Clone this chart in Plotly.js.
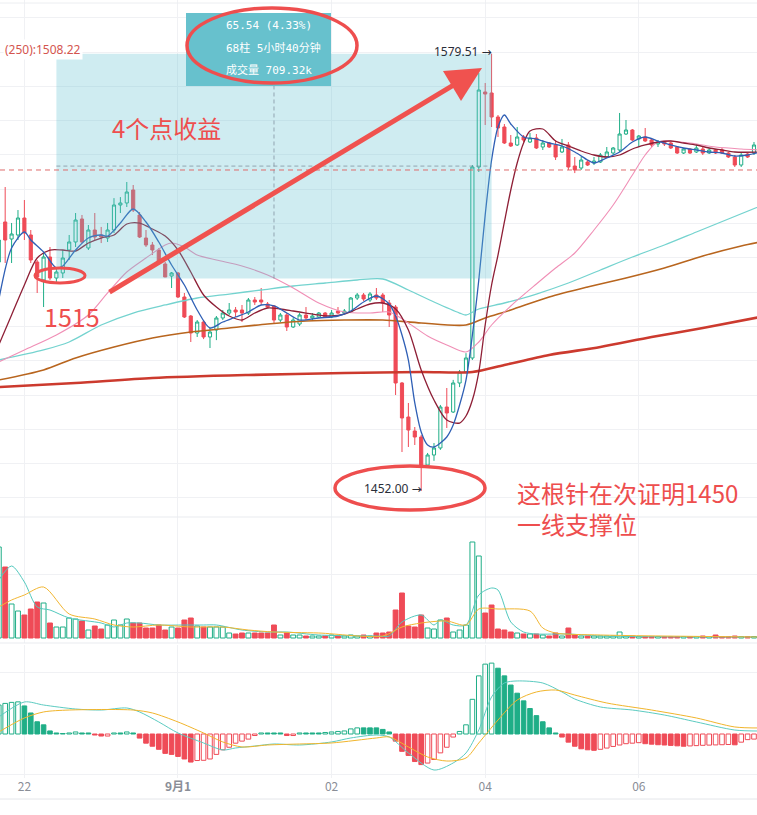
<!DOCTYPE html>
<html><head><meta charset="utf-8">
<script src="https://cdn.plot.ly/plotly-3.0.1.min.js"></script>
<style>html,body{margin:0;padding:0;background:#fff;overflow:hidden}</style>
</head><body><div id="chart" style="width:757px;height:815px"></div>
<script>
// ---------- data (5-minute bars, bar index 0 = 22:00, 24 = 9月1 00:00) ----------
const firstBar = -4;
const openP = [1518.77,1530.44,1525.48,1526.65,1531.60,1526.65,1518.77,1513.53,1520.23,1514.11,
1515.57,1522.27,1524.61,1531.31,1522.86,1528.10,1526.65,1525.77,1528.10,1535.39,
1535.98,1539.77,1532.48,1525.77,1523.73,1522.27,1518.19,1514.69,1515.57,1508.57,
1503.03,1498.07,1501.28,1496.91,1498.95,1502.45,1503.90,1504.78,1504.78,1503.90,
1507.70,1507.70,1506.53,1505.95,1501.86,1503.32,1499.82,1500.70,1503.32,1502.45,
1502.74,1503.90,1502.74,1504.49,1503.90,1504.20,1508.28,1509.15,1507.70,1509.15,
1509.15,1506.82,1505.65,1483.50,1473.58,1469.50,1467.75,1459.59,1462.51,1464.55,
1476.50,1475.04,1483.50,1486.70,1490.79,1546.47,1568.34,1568.05,1561.05,1558.13,
1553.47,1552.89,1555.22,1553.76,1554.93,1552.30,1553.47,1552.89,1550.85,1552.89,
1546.76,1546.18,1547.93,1547.64,1547.93,1549.39,1550.55,1551.43,1556.09,1557.26,
1554.64,1555.22,1554.34,1553.18,1553.76,1553.47,1552.30,1550.55,1551.72,1550.85,
1551.72,1550.55,1551.43,1551.43,1550.55,1549.39,1547.05,1550.26,1550.55];
const highP = [1528.10,1540.64,1530.15,1533.93,1536.85,1528.10,1519.36,1521.69,1523.15,1517.03,
1522.27,1526.65,1533.06,1532.48,1529.56,1533.06,1529.00,1530.15,1537.40,1537.70,
1542.10,1541.22,1533.35,1528.10,1524.61,1522.86,1518.77,1515.86,1515.86,1509.74,
1503.32,1501.86,1501.86,1499.82,1503.03,1504.78,1506.82,1505.65,1506.24,1508.28,
1508.57,1511.19,1507.11,1506.24,1503.90,1503.90,1502.45,1503.90,1505.65,1503.90,
1504.20,1504.20,1504.78,1505.65,1505.07,1508.57,1509.74,1509.74,1510.03,1511.19,
1509.74,1507.70,1506.24,1483.79,1477.67,1470.67,1468.34,1463.10,1466.00,1477.10,
1482.04,1484.40,1487.30,1492.20,1547.05,1573.88,1570.96,1579.51,1561.63,1559.00,
1555.80,1558.13,1555.80,1556.40,1556.09,1554.34,1553.76,1554.34,1554.64,1553.76,
1549.39,1549.39,1548.51,1549.39,1550.55,1552.30,1552.30,1562.22,1560.17,1557.55,
1555.80,1557.84,1554.64,1554.34,1554.05,1553.76,1552.59,1552.01,1552.01,1552.89,
1552.30,1552.01,1551.72,1552.01,1550.85,1549.97,1550.55,1550.55,1553.76];
const lowP = [1517.03,1518.48,1518.48,1525.19,1525.19,1518.48,1509.74,1505.65,1513.53,1512.65,
1514.11,1519.36,1523.15,1524.32,1522.27,1525.19,1524.30,1524.61,1527.23,1533.06,
1534.81,1533.35,1525.77,1523.15,1520.80,1517.90,1514.40,1511.19,1508.28,1502.45,
1495.45,1496.91,1496.30,1493.70,1496.00,1501.86,1503.32,1502.74,1501.28,1503.32,
1506.24,1506.24,1505.36,1501.00,1501.28,1498.66,1499.53,1500.12,1501.86,1501.86,
1502.45,1502.45,1502.45,1503.60,1503.60,1503.90,1507.70,1507.40,1507.11,1507.70,
1504.20,1499.82,1480.00,1463.38,1464.84,1465.42,1452.00,1459.01,1460.80,1464.00,
1470.37,1474.75,1482.30,1486.40,1490.20,1545.01,1558.72,1558.13,1555.22,1553.18,
1552.30,1552.59,1553.76,1553.47,1551.72,1551.43,1552.01,1548.51,1550.55,1545.60,
1544.70,1545.60,1546.76,1547.05,1547.64,1549.10,1549.97,1550.85,1555.80,1554.05,
1552.30,1553.76,1552.30,1552.30,1552.59,1551.72,1550.26,1550.26,1550.26,1550.55,
1549.97,1550.26,1550.26,1550.26,1549.10,1546.47,1546.47,1549.10,1549.97];
const closeP = [1525.19,1525.19,1526.94,1531.60,1527.23,1519.36,1514.40,1520.23,1514.11,1515.86,
1519.94,1524.61,1531.02,1524.61,1528.10,1526.06,1526.06,1528.10,1535.39,1535.98,
1539.18,1533.93,1526.06,1523.73,1522.27,1518.48,1514.40,1515.57,1508.57,1502.74,
1498.07,1501.28,1496.91,1498.37,1502.45,1503.90,1504.78,1504.20,1503.90,1507.70,
1507.11,1507.11,1505.65,1501.86,1503.32,1499.82,1501.86,1503.32,1502.45,1503.03,
1503.90,1502.74,1503.90,1503.90,1504.49,1508.28,1509.15,1507.99,1509.45,1508.28,
1506.82,1503.32,1483.50,1473.29,1469.79,1467.75,1459.01,1462.51,1464.55,1476.50,
1474.75,1483.50,1486.70,1490.79,1546.47,1568.92,1567.75,1561.05,1557.84,1553.47,
1552.59,1555.22,1554.34,1554.93,1552.01,1553.47,1552.30,1549.39,1552.30,1546.47,
1545.60,1548.51,1547.05,1548.22,1549.97,1550.85,1552.01,1556.09,1557.26,1554.34,
1555.51,1554.05,1552.89,1553.76,1553.18,1552.01,1550.55,1551.72,1550.55,1552.01,
1550.55,1551.43,1550.55,1550.55,1549.39,1547.05,1549.97,1549.39,1552.89];
const volume = [91,71,34,27,23,29,36,35,15,11,
11,20,19,17,8,12,9,13,18,13,
19,15,15,10,10,13,8,11,10,18,
20,12,11,11,11,11,5,4,5,5,
5,5,5,13,3,5,3,3,2,2,
2,2,3,2,2,3,2,3,2,5,
5,6,28,45,12,11,23,10,9,18,
20,6,8,13,96,82,25,33,9,8,
6,5,4,4,4,3,2,5,2,10,
3,2,2,2,2,2,2,6,2,2,
1.5,1.5,1.5,1.5,1.5,1.5,1.5,1.5,1.5,1.5,
2,1.5,3,1.5,1.5,2,1.5,1.5,1.5];
const macdHist = [2.84,3.0,3.1,3.15,2.75,2.06,1.2,0.9,0.3,0.1,
0.05,0.1,0.2,0.1,0.1,-0.1,-0.2,-0.2,0.1,0.1,
0.2,0.1,-0.4,-0.9,-1.2,-1.5,-1.9,-2.0,-2.2,-2.45,
-2.75,-2.6,-2.58,-2.45,-2.0,-1.55,-1.3,-0.9,-0.7,-0.5,
-0.15,0.1,0.1,0.1,0.1,-0.15,-0.15,0.1,0.1,0.1,
0.1,0.15,0.2,0.25,0.3,0.5,0.6,0.6,0.6,0.6,
0.45,0.2,-0.7,-1.7,-2.1,-2.7,-3.0,-2.85,-2.5,-1.85,
-1.3,-0.3,0.25,0.9,3.4,5.7,6.85,6.95,6.45,5.7,
4.8,4.0,3.25,2.5,1.8,1.2,0.6,0.1,-0.3,-0.8,
-1.2,-1.45,-1.55,-1.6,-1.5,-1.38,-1.22,-1.08,-0.95,-0.9,
-0.85,-0.95,-1.0,-1.05,-1.08,-1.12,-1.16,-1.2,-1.17,-1.14,
-1.11,-1.09,-1.07,-1.05,-1.03,-1.06,-0.8,-0.55,-0.5];

// moving averages at sample bars
const ma5X = [-4,-2,0,1,3,5,6,8,10,12,13,15,17,19,21,23,25,27,29,31,33,35,37,39,41,43,46,49,51,53,55,57,58,59,60,61,62,63,64,65,66,67,68,69,70,71,72,73,74,75,76,78,80,82,84,86,88,89,91,93,95,97,99,101,103,105,107,109,111,113,115];
const ma5Y = [1507.69,1522.86,1527.52,1525.19,1521.69,1517.02,1517.61,1522.27,1525.77,1526.65,1526.35,1530.14,1534.23,1530.44,1524.60,1517.90,1512.07,1504.78,1499.53,1501.28,1502.74,1504.20,1506.24,1505.95,1503.90,1501.86,1502.45,1503.03,1504.49,1507.11,1508.86,1506.53,1503.03,1497.49,1490.20,1477.67,1469.21,1465.42,1464.84,1466.00,1467.75,1471.25,1477.08,1484.37,1497.49,1513.53,1532.48,1548.51,1558.13,1561.63,1559.01,1555.22,1554.63,1553.47,1552.59,1550.84,1548.51,1547.64,1549.10,1550.84,1553.76,1555.22,1554.05,1552.89,1552.01,1551.43,1550.84,1550.55,1549.68,1549.97,1550.84];
const ma10X = [-4,-2,0,2,4,6,8,10,12,14,16,18,20,22,24,26,28,30,32,34,36,38,40,42,44,46,48,50,52,54,56,58,60,62,64,66,68,69,70,71,72,73,74,75,76,77,78,79,81,83,85,87,89,91,93,95,97,99,101,103,105,107,109,111,115];
const ma10Y = [1494.58,1503.32,1512.07,1519.94,1522.27,1522.27,1521.98,1524.31,1525.77,1526.65,1529.85,1530.14,1528.40,1526.35,1522.27,1515.86,1509.15,1505.65,1503.03,1501.86,1503.90,1505.36,1505.07,1504.49,1503.90,1503.32,1503.03,1503.61,1505.07,1506.53,1506.82,1505.07,1498.95,1487.29,1478.54,1472.71,1471.83,1473.88,1478.54,1486.70,1500.41,1512.07,1520.81,1530.44,1539.77,1547.64,1553.47,1556.97,1557.55,1554.05,1552.59,1551.14,1549.97,1549.39,1549.97,1551.72,1552.89,1553.76,1554.05,1553.47,1552.89,1552.01,1551.43,1550.84,1550.84];
const ma30X = [-4,0,5,10,13,16,19,22,23,25,27,30,34,38,42,46,50,54,57,60,63,66,69,71,73,76,80,83,86,89,92,95,97,99,104,108,112,115];
const ma30Y = [1489.62,1493.12,1497.49,1503.32,1509.74,1515.86,1519.94,1523.73,1524.31,1523.15,1520.81,1519.36,1517.61,1514.98,1511.19,1506.82,1504.20,1503.90,1504.20,1500.99,1497.20,1494.58,1492.53,1495.45,1500.41,1505.95,1512.36,1517.02,1521.40,1528.10,1535.39,1544.14,1549.97,1553.76,1553.47,1552.30,1551.72,1551.43];
const ma60X = [-4,3,7,12,17,22,27,32,37,42,47,52,56,60,64,68,69,71,75,80,85,90,95,100,105,110,115];
const ma60Y = [1490.20,1493.12,1495.45,1500.41,1503.90,1506.24,1508.28,1509.44,1510.61,1511.78,1512.65,1513.53,1513.82,1510.61,1507.11,1503.90,1503.32,1505.07,1506.82,1509.44,1512.65,1516.44,1520.23,1523.73,1527.52,1531.31,1535.10];
const ma120X = [-4,3,8,14,20,26,32,38,44,50,56,62,69,72,76,82,88,94,100,106,112,115];
const ma120Y = [1484.37,1487.29,1490.79,1493.99,1496.62,1498.37,1499.53,1500.70,1501.57,1501.86,1501.86,1500.99,1500.41,1502.45,1504.78,1508.57,1511.49,1514.11,1517.02,1520.52,1523.44,1524.60];
const ma250X = [-4,8,20,35,50,62,70,75,82,90,98,106,115];
const ma250Y = [1482.33,1483.50,1484.95,1485.83,1486.41,1486.70,1486.70,1488.74,1491.66,1493.99,1496.91,1499.53,1502.74];

const volMa5X = [-4,-2,0,2,4,7,12,14,16,18,21,25,28,30,34,38,41,46,55,57,59,62,64,65,67,69,71,73,74,76,78,80,85,90,115];
const volMa5Y = [58,72,56,31,28,20,15,11,15,15,13,13,13,13,8,6,6,3,2,2,16,23,13,18,13,13,43,50,48,16,6,4,4,2,1];
const volMa10X = [-4,-2,0,3,7,11,14,17,21,26,31,35,39,46,56,59,62,66,69,71,74,79,81,83,90,115];
const volMa10Y = [31,38,43,51,24,19,13,11,13,11,11,8,6,5,2,11,15,17,13,29,29,27,10,5,3,1];

const difX = [-4,0,3,8,12,16,18,21,24,28,31,33,36,39,43,48,51,55,57,60,64,67,69,71,73,75,77,81,84,86,90,95,100,105,111,115];
const difY = [1.67,3.14,2.84,2.45,2.35,2.55,2.16,1.18,0.10,-0.88,-1.57,-1.37,-1.18,-0.98,-1.08,-0.78,-0.39,-0.10,-0.29,-1.86,-3.53,-2.84,-1.86,0.39,3.63,5.00,5.20,5.00,4.12,3.43,2.65,2.35,1.86,1.18,0.39,0.29];
const deaX = [-4,0,3,7,17,20,24,28,31,34,38,43,48,55,57,60,63,66,69,71,74,77,80,83,86,91,98,105,111,115];
const deaY = [0.20,1.57,2.16,2.35,2.35,2.06,1.18,0.10,-0.78,-1.27,-1.08,-0.98,-0.88,-0.39,-0.29,-1.27,-2.25,-2.65,-2.35,-0.88,1.37,3.33,4.12,4.31,3.82,3.04,2.35,1.57,0.69,0.59];

const tickVals = [0,24,48,72,96];
const tickText = ['22','<b>9月1</b>','02','04','06'];

// measurement tool (price range): start bar / end bar, low / high
const rangeBars = [5,73];
const rangePrices = [1513.97,1579.51];
const lastPrice = 1545.6;

// ---------- drawing ----------
const G = '#1fae87', R = '#ef4b57';
const bars = openP.map((_, k) => firstBar + k);
const isUp = bars.map((_, k) => closeP[k] >= openP[k]);

const volFill = isUp.map(u => u ? 'rgba(255,255,255,0)' : R);
const volLine = isUp.map(u => u ? G : R);

const hFill = [], hLine = [];
macdHist.forEach((v, k) => {
  const prev = k > 0 ? macdHist[k-1] : -Infinity;
  if (v >= 0) { const hollow = v > prev; hFill.push(hollow ? 'rgba(255,255,255,0)' : G); hLine.push(G); }
  else { const falling = v < prev; hFill.push(falling ? R : 'rgba(255,255,255,0)'); hLine.push(R); }
});

function line(x, y, color, width, yaxis) {
  return {type:'scatter', mode:'lines', x:x, y:y, yaxis:yaxis, xaxis:'x',
          line:{color:color, width:width, shape:'spline', smoothing:0.8}, hoverinfo:'skip'};
}

const traces = [
  {type:'candlestick', x:bars, open:openP, high:highP, low:lowP, close:closeP, xaxis:'x', yaxis:'y',
   increasing:{line:{color:G, width:1}, fillcolor:'rgba(255,255,255,0)'},
   decreasing:{line:{color:R, width:1}, fillcolor:R}, whiskerwidth:0, hoverinfo:'skip'},
  line(ma250X, ma250Y, '#cc3a2e', 2.6, 'y'),
  line(ma120X, ma120Y, '#b8651e', 1.6, 'y'),
  line(ma60X, ma60Y, '#74d3cf', 1.3, 'y'),
  line(ma30X, ma30Y, '#f08fb6', 1.1, 'y'),
  line(ma10X, ma10Y, '#8e1f36', 1.3, 'y'),
  line(ma5X, ma5Y, '#2f5fb5', 1.3, 'y'),
  {type:'bar', x:bars, y:volume, xaxis:'x', yaxis:'y2', width:0.76,
   marker:{color:volFill, line:{color:volLine, width:1}}, hoverinfo:'skip'},
  line(volMa5X, volMa5Y, '#52c9be', 1, 'y2'),
  line(volMa10X, volMa10Y, '#f2b632', 1, 'y2'),
  {type:'bar', x:bars, y:macdHist, xaxis:'x', yaxis:'y3', width:0.72,
   marker:{color:hFill, line:{color:hLine, width:1}}, hoverinfo:'skip'},
  line(difX, difY, '#5ccbc1', 1, 'y3'),
  line(deaX, deaY, '#f1b52c', 1, 'y3')
];

const W = 757, PH = 778;
const px = x => x / W;
const py = y => (PH - y) / PH;
const RED = '#ee4e4e';

const shapes = [
  {type:'line', xref:'paper', yref:'paper', x0:0, x1:1, y0:py(517), y1:py(517), line:{color:'#e9ebef', width:1}},
  {type:'line', xref:'paper', yref:'paper', x0:0, x1:1, y0:py(643), y1:py(643), line:{color:'#e9ebef', width:1}},
  {type:'line', xref:'paper', yref:'paper', x0:0, x1:1, y0:py(799), y1:py(799), line:{color:'#e4e6ea', width:1}},
  {type:'line', xref:'paper', yref:'paper', x0:0, x1:1, y0:py(3), y1:py(3), line:{color:'#eceef1', width:1}},
  {type:'rect', xref:'x', yref:'y', x0:rangeBars[0], x1:rangeBars[1], y0:rangePrices[0], y1:rangePrices[1],
   fillcolor:'rgba(96,192,208,0.3)', line:{width:0}, layer:'above'},
  {type:'line', xref:'x', yref:'y', x0:rangeBars[0], x1:rangeBars[1],
   y0:(rangePrices[0]+rangePrices[1])/2, y1:(rangePrices[0]+rangePrices[1])/2,
   line:{color:'rgba(120,135,150,0.7)', width:1, dash:'4px,3px'}, layer:'above'},
  {type:'line', xref:'x', yref:'y', x0:(rangeBars[0]+rangeBars[1])/2, x1:(rangeBars[0]+rangeBars[1])/2,
   y0:rangePrices[0], y1:rangePrices[1],
   line:{color:'rgba(120,135,150,0.7)', width:1, dash:'4px,3px'}, layer:'above'},
  {type:'line', xref:'paper', yref:'y', x0:0, x1:1, y0:lastPrice, y1:lastPrice,
   line:{color:'#df6b6b', width:1, dash:'5px,4px'}, layer:'above'},
  {type:'rect', xref:'paper', yref:'paper', x0:px(186), x1:px(331), y0:py(86), y1:py(13),
   fillcolor:'#67c1cd', line:{width:0}, layer:'above'},
  {type:'circle', xref:'paper', yref:'paper', x0:px(187), x1:px(357), y0:py(83), y1:py(8),
   line:{color:RED, width:3.5}, layer:'above'},
  {type:'circle', xref:'paper', yref:'paper', x0:px(35), x1:px(85), y0:py(283), y1:py(268),
   line:{color:RED, width:3}, layer:'above'},
  {type:'circle', xref:'paper', yref:'paper', x0:px(335), x1:px(485), y0:py(510), y1:py(466),
   line:{color:RED, width:3.5}, layer:'above'}
];

const boxFont = {family:'DejaVu Sans Mono, Noto Sans CJK SC, monospace', size:11, color:'#ffffff'};
const bigFont = {family:'Noto Sans CJK SC, Noto Sans, sans-serif', size:24, color:RED};
const smallFont = {family:'Noto Sans, Liberation Sans, sans-serif', size:12, color:'#2a2e39'};
const arrowGlyph = ' <span style="font-family:DejaVu Sans">→</span>';
function note(text, x, y, font, xanchor, extra) {
  return Object.assign({text:text, xref:'paper', yref:'paper', x:px(x), y:py(y), xanchor:xanchor||'left',
    yanchor:'middle', showarrow:false, font:font}, extra||{});
}
const annotations = [
  note('65.54 (4.33%)', 224, 26, boxFont),
  note('68柱 5小时40分钟', 224, 48, boxFont),
  note('成交量 709.32k', 224, 70, boxFont),
  note('4个点收益', 110, 127, bigFont),
  note('1515', 42, 316, Object.assign({}, bigFont, {size:25})),
  note('这根针在次证明1450<br>一线支撑位', 515, 508, bigFont, 'left', {align:'left'}),
  note('1452.00' + arrowGlyph, 362, 489, smallFont),
  note('1579.51' + arrowGlyph, 432, 52, smallFont),
  note('(250):1508.22', 3, 49, {family:'Noto Sans, sans-serif', size:12, color:'#d4554f'}, 'left', {bgcolor:'#ffffff'}),
  {text:' ', xref:'paper', yref:'paper', x:px(482), y:py(68), ax:-374, ay:225, axref:'pixel', ayref:'pixel',
   showarrow:true, arrowhead:2, arrowsize:1.4, arrowwidth:5, arrowcolor:'#f0524f', standoff:0, font:{size:1}}
];

const axisCommon = {showticklabels:false, zeroline:false, showline:false, ticks:'', fixedrange:true, gridcolor:'#f0f1f4', gridwidth:1};
const layout = {
  width:757, height:815, margin:{l:0, r:0, t:0, b:37},
  paper_bgcolor:'#ffffff', plot_bgcolor:'#ffffff', showlegend:false, hovermode:false,
  xaxis:{range:[-3.81,114.47], anchor:'y3', tickmode:'array', tickvals:tickVals, ticktext:tickText,
         showgrid:true, gridcolor:'#f0f1f4', zeroline:false, showline:false, ticks:'',
         tickfont:{family:'Noto Sans CJK SC, Noto Sans, sans-serif', size:12, color:'#8a8e97'},
         rangeslider:{visible:false}, fixedrange:true},
  yaxis:Object.assign({}, axisCommon, {domain:[py(517),1], range:[1444.43,1595.16], anchor:'x', tickmode:'array',
         tickvals:[1450,1460,1470,1480,1490,1500,1510,1520,1530,1540,1550,1560,1570,1580,1590]}),
  yaxis2:Object.assign({}, axisCommon, {domain:[py(643),py(517)], range:[-5,121], anchor:'x', tickmode:'array', tickvals:[64]}),
  yaxis3:Object.assign({}, axisCommon, {domain:[0,py(645)], range:[-4.314,8.725], anchor:'x', tickmode:'array', tickvals:[-4,6]}),
  shapes:shapes, annotations:annotations
};
Plotly.newPlot('chart', traces, layout, {displayModeBar:false, staticPlot:true});
</script></body></html>
